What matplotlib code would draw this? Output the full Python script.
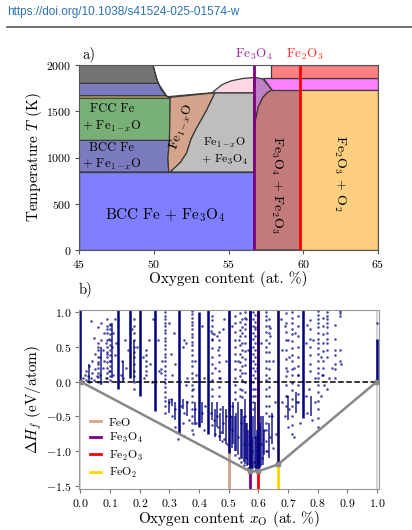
# Fe-O phase diagram (a) and formation energies (b).
import numpy as np
import matplotlib
matplotlib.use('Agg')
import matplotlib.pyplot as plt
from matplotlib.patches import Polygon
from matplotlib.lines import Line2D

plt.rcParams['font.family'] = 'serif'
plt.rcParams['font.serif'] = ['cmr10', 'DejaVu Serif']
plt.rcParams['mathtext.fontset'] = 'cm'
plt.rcParams['axes.formatter.use_mathtext'] = True
plt.rcParams['axes.unicode_minus'] = True

# ---- panel a: phase regions (x = at.% O, y = T in K) ----
region_colors = ['#7f7fff', '#7b7bc0', '#78b078', '#ffe066', '#7b7bc0', '#737373',
                 '#d4a48c', '#bebebe', '#ffd6e2', '#bf80c4', '#c27a7a',
                 '#ff80ff', '#ff8080', '#ffcf80']
region_x = [
    [45, 56.7, 56.7, 45],
    [45, 51.0, 50.95, 51.05, 45],
    [45, 51.05, 51.1, 45],
    [45, 51.1, 50.85, 45],
    [45, 50.85, 50.3, 45],
    [45, 50.3, 50.1, 49.95, 45],
    [51.0, 51.1, 51.8, 52.2, 52.5, 52.8, 53.5, 54.1, 51.1, 51.05, 50.95],
    [51.1, 56.7, 56.7, 54.1, 53.5, 52.8, 52.5, 52.2, 51.8],
    [53.9, 56.7, 56.7, 56.0, 55.2, 54.6, 54.2],
    [56.7, 56.8, 57.0, 57.3, 57.6, 57.9, 57.6, 57.3, 56.7],
    [56.7, 59.8, 59.8, 57.9, 57.6, 57.3, 57.0, 56.8, 56.7],
    [57.9, 65, 65, 57.3],
    [57.83, 65, 65, 57.83],
    [59.8, 65, 65, 59.8],
]
region_t = [
    [0, 0, 843, 843],
    [843, 843, 1000, 1185, 1185],
    [1185, 1185, 1642, 1642],
    [1642, 1642, 1668, 1668],
    [1668, 1668, 1802, 1802],
    [1802, 1802, 1900, 2000, 2000],
    [843, 843, 950, 1050, 1200, 1300, 1500, 1700, 1650, 1185, 1000],
    [843, 843, 1700, 1700, 1500, 1300, 1200, 1050, 950],
    [1700, 1700, 1865, 1855, 1830, 1790, 1740],
    [1250, 1400, 1550, 1650, 1700, 1730, 1790, 1850, 1868],
    [0, 0, 1730, 1730, 1700, 1650, 1550, 1400, 1250],
    [1730, 1730, 1856, 1856],
    [1856, 1856, 2000, 2000],
    [0, 0, 1730, 1730],
]
liquidus_x = [49.95, 50.2, 50.5, 50.9, 53.9]
liquidus_t = [2000, 1850, 1730, 1657, 1700]

fe3o4_x = 56.7
fe2o3_x = 59.8

# ---- panel b: formation energies ----
# main streaks of structures: composition, lowest and highest energy
dense_x = [0.0, 0.125, 0.167, 0.2, 0.25, 0.333, 0.4, 0.429, 0.5, 0.571, 0.6, 0.667,
           0.75, 1.0]
dense_lo = [0.0, -0.1, 0.05, -0.2, -0.42, -0.75, -0.65, -0.75, -1.02, -1.28, -1.28, -1.19,
            -0.52, 0.0]
dense_hi = [1.05, 1.05, 1.05, 1.05, 1.05, 1.05, 1.0, 1.05, 1.05, 1.05, 1.05, 1.05,
            1.05, 0.62]

# thinner streaks
thin_x = [0.03, 0.068, 0.105, 0.143, 0.182, 0.3, 0.31, 0.32, 0.345, 0.36, 0.385, 0.41,
          0.444, 0.455, 0.462, 0.47, 0.48, 0.49, 0.505, 0.51, 0.515, 0.52, 0.525, 0.533,
          0.54, 0.545, 0.55, 0.556, 0.558, 0.563, 0.566, 0.575, 0.579, 0.583, 0.588,
          0.592, 0.596, 0.605, 0.61, 0.615, 0.62, 0.636, 0.645, 0.7, 0.727, 0.778]
thin_lo = [-0.02, -0.05, 0.05, 0.0, 0.0, -0.45, -0.35, -0.55, -0.4, -0.5, -0.62, -0.6,
           -0.55, -0.8, -0.65, -0.85, -0.75, -0.9, -0.7, -0.95, -0.9, -1.0, -1.0, -1.05,
           -1.1, -1.12, -1.15, -1.18, -1.1, -1.22, -1.2, -1.25, -1.24, -1.26, -1.25,
           -1.27, -1.26, -1.25, -1.2, -1.2, -1.05, -1.1, -0.9, -0.55, -0.45, -0.5]
thin_hi = [0.25, 0.5, 0.85, 0.3, 0.6, -0.25, -0.25, -0.3, -0.25, -0.28, -0.3, -0.3,
           -0.3, -0.4, -0.3, -0.45, -0.35, -0.4, -0.3, -0.5, -0.3, -0.5, -0.45, -0.3,
           -0.4, -0.4, -0.5, -0.25, -0.6, -0.6, -0.7, -0.5, -0.8, -0.5, -0.3,
           -0.8, -0.7, -0.6, -0.5, -0.5, -0.7, -0.6, -0.45, -0.2, -0.15, -0.2]

# sparser columns of structures
col_x = [0.286, 0.375, 0.625, 0.714, 0.8, 0.833, 0.857, 0.875, 0.583, 0.52, 0.545,
         0.775, 0.1, 0.182, 0.222, 0.444, 0.467, 0.538, 0.556, 0.588, 0.636, 0.692,
         0.733, 0.818, 0.059, 0.091]
col_y = [
    [1.0, 0.95, 0.9, 0.84, 0.8, 0.74, 0.7, 0.63, 0.58, 0.52, 0.47, 0.4, 0.35, 0.3, 0.22,
     0.15, 0.1, 0.04, -0.02, -0.08, -0.15, -0.22, -0.28, -0.35, -0.45],
    [1.02, 0.97, 0.92, 0.86, 0.81, 0.75, 0.69, 0.64, 0.57, 0.52, 0.46, 0.38, 0.3, 0.22,
     0.12, 0.05, -0.05, -0.12, -0.2, -0.3, -0.4, -0.5, -0.6, -0.7],
    [1.0, 0.94, 0.88, 0.8, 0.72, 0.6, 0.5, 0.42, 0.3, 0.2, 0.1, 0.02, -0.1, -0.2, -0.35,
     -0.45, -0.6, -0.7, -0.85, -1.0],
    [1.0, 0.92, 0.85, 0.76, 0.68, 0.58, 0.48, 0.38, 0.3, 0.18, 0.1, -0.02, -0.12, -0.25,
     -0.35, -0.5, -0.62, -0.75],
    [1.02, 0.96, 0.9, 0.84, 0.78, 0.7, 0.62, 0.55, 0.48, 0.4, 0.3, 0.2, 0.12, 0.05,
     -0.05, -0.15, -0.28, -0.4, -0.52, -0.65],
    [1.0, 0.95, 0.9, 0.84, 0.78, 0.7, 0.62, 0.55, 0.45, 0.35],
    [0.82, 0.62, 0.45, 0.38, 0.25, 0.18],
    [1.02, 0.98, 0.95],
    [1.0, 0.9, 0.8, 0.7, 0.62, 0.5, 0.4, 0.3, 0.2, 0.1, 0.0, -0.1, -0.2, -0.3, -0.4],
    [0.95, 0.85, 0.72, 0.6, 0.5, 0.4, 0.3, 0.18, 0.05, -0.05, -0.15, -0.25],
    [0.9, 0.78, 0.7, 0.55, 0.45, 0.35, 0.22, 0.12, 0.02, -0.12, -0.22],
    [0.88, 0.75, 0.62, 0.5, 0.38, 0.25, 0.15],
    [0.83, 0.75, 0.68, 0.6, 0.52, 0.45, 0.38, 0.3, 0.22, 0.15, 0.08, 0.02],
    [0.9, 0.8, 0.7, 0.6, 0.5, 0.42, 0.35, 0.25, 0.15, 0.08, 0.0, -0.1],
    [0.45, 0.38, 0.3, 0.22, 0.15, 0.1],
    [0.95, 0.88, 0.8, 0.7, 0.6, 0.48, 0.36, 0.25, 0.12, 0.02, -0.1, -0.2],
    [0.72, 0.6, 0.5, 0.38, 0.28, 0.15, 0.05, -0.08, -0.2],
    [0.98, 0.86, 0.74, 0.65, 0.52, 0.4, 0.28, 0.16, 0.08, -0.1, -0.2],
    [1.0, 0.92, 0.83, 0.76, 0.66, 0.55, 0.44, 0.33, 0.24, 0.12, 0.0, -0.15],
    [0.96, 0.86, 0.78, 0.66, 0.55, 0.45, 0.35, 0.25, 0.15, 0.05, -0.1, -0.2],
    [0.9, 0.8, 0.7, 0.55, 0.42, 0.3, 0.18, 0.05, -0.08, -0.2, -0.35, -0.5],
    [0.98, 0.85, 0.72, 0.6, 0.45, 0.32, 0.2, 0.08, -0.05, -0.2, -0.35],
    [0.95, 0.8, 0.66, 0.5, 0.36, 0.22, 0.1, -0.05, -0.18, -0.3],
    [0.92, 0.8, 0.68, 0.55, 0.44, 0.3, 0.2, 0.1],
    [0.55, 0.45, 0.36, 0.28, 0.2, 0.12, 0.06, 0.0],
    [0.8, 0.7, 0.6, 0.5, 0.42, 0.35, 0.28, 0.2, 0.12, 0.05],
]

# loose structures
pts_x = [0.01, 0.015, 0.02, 0.02, 0.025, 0.03, 0.03, 0.035, 0.04, 0.04, 0.045, 0.05,
         0.05, 0.055, 0.06, 0.06, 0.065, 0.065, 0.07, 0.07, 0.075, 0.075, 0.08, 0.08,
         0.085, 0.085, 0.09, 0.09, 0.095, 0.095, 0.1, 0.1, 0.105, 0.11, 0.11, 0.115,
         0.115, 0.12, 0.035, 0.045, 0.06, 0.07, 0.09,
         0.135, 0.14, 0.145, 0.15, 0.155, 0.16, 0.175, 0.19, 0.21, 0.215, 0.23, 0.235,
         0.24, 0.245,
         0.26, 0.265, 0.27, 0.27, 0.275, 0.3, 0.305, 0.31, 0.315, 0.32, 0.345, 0.35,
         0.355, 0.36, 0.385, 0.39, 0.41, 0.415, 0.44, 0.445, 0.45, 0.455, 0.46, 0.465,
         0.47, 0.48, 0.485, 0.49, 0.355, 0.38,
         0.3, 0.31, 0.32, 0.34, 0.345, 0.35, 0.36, 0.365, 0.38, 0.385, 0.39, 0.41,
         0.415, 0.42, 0.35, 0.32, 0.305, 0.33,
         0.44, 0.45, 0.46, 0.465, 0.47, 0.475, 0.48, 0.485, 0.49, 0.495, 0.455, 0.445,
         0.478, 0.468,
         0.505, 0.51, 0.51, 0.52, 0.53, 0.535, 0.54, 0.54, 0.55, 0.55, 0.555, 0.56,
         0.565, 0.568, 0.575, 0.58, 0.585, 0.59, 0.592, 0.595, 0.605, 0.61, 0.612,
         0.62, 0.63, 0.64, 0.645, 0.65, 0.655, 0.66,
         0.68, 0.69, 0.695, 0.7, 0.705, 0.72, 0.73, 0.74, 0.76, 0.765, 0.77, 0.78,
         0.79, 0.81, 0.82, 0.83,
         0.51, 0.53, 0.535, 0.56, 0.565, 0.59, 0.595, 0.61, 0.64, 0.64, 0.65, 0.675,
         0.68, 0.69, 0.695, 0.7, 0.705, 0.72, 0.725, 0.735, 0.76, 0.765, 0.785, 0.79,
         0.81, 0.815, 0.84, 0.85, 0.86, 0.875, 0.875, 0.88, 1.0]
pts_y = [0.05, 0.1, 0.02, 0.15, 0.08, 0.0, 0.22, 0.05, 0.12, 0.3, 0.02, 0.18,
         0.4, 0.08, 0.25, 0.5, 0.1, 0.35, 0.0, 0.6, 0.2, 0.45, 0.3, 0.7,
         0.05, 0.55, 0.4, 0.75, 0.15, 0.62, 0.3, 0.82, 0.5, 0.7, 0.1, 0.38,
         0.9, 0.55, 0.87, 0.63, 0.78, 0.85, 0.9,
         0.1, 0.3, 0.05, 0.6, 0.2, 0.45, 0.75, 0.5, 0.35, 0.05, 0.6, 0.25,
         0.0, 0.9,
         0.6, 0.15, 0.12, 0.18, 0.3, 0.85, 0.4, 0.1, 0.7, 0.25, 0.5, 0.6,
         0.55, 0.05, 0.3, 0.1, 0.8, 0.05, 0.73, 0.62, 0.68, 0.2, 0.65, 0.45,
         0.05, 0.75, 0.9, 0.3, -0.05, -0.1,
         -0.3, -0.5, -0.4, -0.35, -0.6, -0.45, -0.3, -0.55, -0.75, -0.4, -0.6, -0.45,
         -0.7, -0.35, -0.78, -0.65, -0.25, -0.82,
         -0.45, -0.55, -0.5, -0.65, -0.4, -0.72, -0.6, -0.82, -0.5, -0.9, -0.75, -0.62,
         -0.85, -0.78,
         -0.5, -0.7, -0.35, -1.05, -0.8, -1.1, -0.6, -1.15, -0.9, -1.2, -0.5, -1.1,
         -1.25, -0.9, -1.2, -1.0, -1.15, -0.8, -1.22, -1.1, -1.2, -0.9, -1.1,
         -0.7, -1.0, -0.8, -0.5, -0.95, -0.3, -0.75,
         -0.3, -0.5, -0.2, -0.65, -0.4, -0.8, -0.3, -0.6, -0.2, -0.45, -0.1, -0.55,
         -0.3, -0.2, -0.05, -0.1,
         0.8, 0.3, 0.6, 0.9, 0.45, 0.75, 0.2, 0.55, 0.77, 0.66, 0.3, 0.9,
         0.45, 0.8, 0.15, 0.6, 0.35, 0.2, 0.7, 0.1, 0.55, 0.82, 0.6, 0.05,
         0.35, 0.1, 0.05, 0.2, 0.05, 0.45, 0.3, 0.25, 0.85]

# convex hull and reference phases
hull_x = [0.0, 0.571, 0.6, 0.667, 1.0]
hull_y = [0.0, -1.29, -1.29, -1.19, 0.0]
phase_names = ['FeO', 'Fe$_3$O$_4$', 'Fe$_2$O$_3$', 'FeO$_2$']
phase_x = [0.5, 0.571, 0.6, 0.667]
phase_colors = ['#d2a28a', '#800080', '#ff0000', '#ffd700']

W, H = 412, 530
fig = plt.figure(figsize=(W / 100, H / 100), dpi=100)

# header
fig.text(7 / W, 1 - 12 / H, 'https://doi.org/10.1038/s41524-025-01574-w',
         family='Liberation Sans', fontsize=8.5, color='#2a72b5', va='center')
fig.add_artist(Line2D([7 / W, 1], [1 - 27 / H, 1 - 27 / H], color='#555555', lw=1.2))

# ---- panel a ----
ax = fig.add_axes([79 / W, 1 - 250 / H, 299 / W, 185 / H])
for xs, ts, c in zip(region_x, region_t, region_colors):
    ax.add_patch(Polygon(list(zip(xs, ts)), closed=True, facecolor=c,
                         edgecolor='#3a3a3a', lw=0.9))
ax.plot(liquidus_x, liquidus_t, color='#3a3a3a', lw=0.9)
ax.plot([fe3o4_x, fe3o4_x], [0, 2000], color='#800080', lw=2)
ax.plot([fe2o3_x, fe2o3_x], [0, 2000], color='#ff0000', lw=2)
ax.set_xlim(45, 65)
ax.set_ylim(0, 2000)
ax.set_xticks([45, 50, 55, 60, 65])
ax.set_yticks([0, 500, 1000, 1500, 2000])
ax.tick_params(labelsize=8.5, color='#555555', length=3, pad=2.5)
for s in ax.spines.values():
    s.set_color('#555555')
ax.set_xlabel('Oxygen content (at. %)', fontsize=11, labelpad=1)
ax.set_ylabel('Temperature $T$ (K)', fontsize=11)
ax.yaxis.set_label_coords(-0.118, 0.5)

ax.text(47.2, 1424, 'FCC Fe\n+ Fe$_{1-x}$O', fontsize=9, ha='center', va='center',
        multialignment='center', linespacing=1.3)
ax.text(47.2, 1009, 'BCC Fe\n+ Fe$_{1-x}$O', fontsize=9, ha='center', va='center',
        multialignment='center', linespacing=1.3)
ax.text(51.9, 1333, 'Fe$_{1-x}$O', fontsize=9.5, rotation=70, ha='center', va='center')
ax.text(54.7, 1060, 'Fe$_{1-x}$O\n+ Fe$_3$O$_4$', fontsize=8.5, ha='center', va='center',
        multialignment='center', linespacing=1.3)
ax.text(50.75, 378, 'BCC Fe + Fe$_3$O$_4$', fontsize=11, ha='center', va='center')
ax.text(58.25, 703, 'Fe$_3$O$_4$ + Fe$_2$O$_3$', fontsize=10, rotation=-90,
        ha='center', va='center')
ax.text(62.45, 832, 'Fe$_2$O$_3$ + O$_2$', fontsize=10, rotation=-90,
        ha='center', va='center')
ax.text(fe3o4_x, 2030, 'Fe$_3$O$_4$', color='#9a2a9a', fontsize=9.5, ha='center', va='bottom')
ax.text(60.1, 2030, 'Fe$_2$O$_3$', color='#ff3030', fontsize=9.5, ha='center', va='bottom')
ax.text(45.2, 2030, 'a)', fontsize=10.5, ha='left', va='bottom')

# ---- panel b ----
bx = fig.add_axes([79 / W, 1 - 489 / H, 300 / W, 179 / H])
for px in [0.0, 1.0]:
    bx.axvline(px, color='#cccccc', lw=1.2, zorder=1)
for px, c, lab in zip(phase_x, phase_colors, phase_names):
    bx.axvline(px, color=c, lw=2, zorder=1, label=lab)
bx.vlines(dense_x, dense_lo, dense_hi, color='#000080', lw=1.8, zorder=2)
bx.vlines(thin_x, thin_lo, thin_hi, color='#000080', lw=1.3, alpha=0.75, zorder=2)
for cx, ys in zip(col_x, col_y):
    bx.scatter([cx] * len(ys), ys, s=3.5, color='#000080', alpha=0.7, lw=0, zorder=2)
bx.scatter(pts_x, pts_y, s=3.5, color='#000080', alpha=0.7, lw=0, zorder=2)
bx.axhline(0, color='black', ls='--', lw=1.1, zorder=3)
bx.plot(hull_x, hull_y, color='#888888', lw=1.8, marker='s', ms=3.5, zorder=4)
bx.set_xlim(-0.005, 1.007)
bx.set_ylim(-1.545, 1.03)
bx.set_xticks(np.arange(0, 1.01, 0.1))
bx.set_yticks([-1.5, -1.0, -0.5, 0.0, 0.5, 1.0])
bx.tick_params(labelsize=8.5, color='#777777', length=3, pad=2.5)
for s in bx.spines.values():
    s.set_color('#999999')
bx.set_xlabel(r'Oxygen content $x_{\rm O}$ (at. %)', fontsize=11, labelpad=0)
bx.set_ylabel(r'$\Delta H_f$ (eV/atom)', fontsize=11)
bx.yaxis.set_label_coords(-0.118, 0.5)
bx.legend(loc='lower left', bbox_to_anchor=(0.0, -0.01), frameon=False, fontsize=8.5,
          handlelength=1.0, handletextpad=0.6, labelspacing=0.3)
bx.text(0.0, 1.07, 'b)', fontsize=10.5, transform=bx.transAxes, ha='left', va='bottom')

fig.savefig('out.png', dpi=100)
